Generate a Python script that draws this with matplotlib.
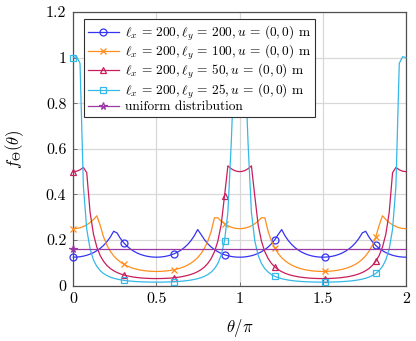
import numpy as np
import matplotlib
matplotlib.use("Agg")
import matplotlib.pyplot as plt

# ---- data (theta/pi sampled on [0, 2]; curves are even about theta/pi = 1) ----
n_samples = 100
blue_half = [0.1250, 0.1255, 0.1270, 0.1296, 0.1334, 0.1385, 0.1450, 0.1533, 0.1637, 0.1766,
             0.1928, 0.2130, 0.2386, 0.2316, 0.2075, 0.1884, 0.1731, 0.1609, 0.1511, 0.1432,
             0.1371, 0.1324, 0.1289, 0.1266, 0.1253, 0.1250, 0.1258, 0.1276, 0.1305, 0.1346,
             0.1400, 0.1469, 0.1557, 0.1667, 0.1803, 0.1974, 0.2189, 0.2461, 0.2251, 0.2023,
             0.1842, 0.1698, 0.1582, 0.1489, 0.1416, 0.1358, 0.1314, 0.1282, 0.1261, 0.1251]
orange_half = [0.2500, 0.2510, 0.2541, 0.2593, 0.2668, 0.2770, 0.2901, 0.3066, 0.2644, 0.2138,
               0.1778, 0.1513, 0.1312, 0.1158, 0.1038, 0.0942, 0.0866, 0.0804, 0.0755, 0.0716,
               0.0685, 0.0662, 0.0644, 0.0633, 0.0626, 0.0625, 0.0629, 0.0638, 0.0652, 0.0673,
               0.0700, 0.0735, 0.0779, 0.0833, 0.0902, 0.0987, 0.1094, 0.1230, 0.1406, 0.1636,
               0.1944, 0.2369, 0.2977, 0.2979, 0.2831, 0.2716, 0.2628, 0.2564, 0.2523, 0.2503]
red_half = [0.5000, 0.5020, 0.5081, 0.5186, 0.4954, 0.3210, 0.2262, 0.1692, 0.1322, 0.1069,
            0.0889, 0.0756, 0.0656, 0.0579, 0.0519, 0.0471, 0.0433, 0.0402, 0.0378, 0.0358,
            0.0343, 0.0331, 0.0322, 0.0316, 0.0313, 0.0313, 0.0314, 0.0319, 0.0326, 0.0336,
            0.0350, 0.0367, 0.0389, 0.0417, 0.0451, 0.0494, 0.0547, 0.0615, 0.0703, 0.0818,
            0.0972, 0.1184, 0.1488, 0.1944, 0.2671, 0.3937, 0.5255, 0.5128, 0.5046, 0.5005]
cyan_half = [1.0000, 1.0040, 0.9750, 0.4363, 0.2477, 0.1605, 0.1131, 0.0846, 0.0661, 0.0535,
             0.0444, 0.0378, 0.0328, 0.0290, 0.0259, 0.0235, 0.0216, 0.0201, 0.0189, 0.0179,
             0.0171, 0.0165, 0.0161, 0.0158, 0.0157, 0.0156, 0.0157, 0.0159, 0.0163, 0.0168,
             0.0175, 0.0184, 0.0195, 0.0208, 0.0225, 0.0247, 0.0274, 0.0308, 0.0351, 0.0409,
             0.0486, 0.0592, 0.0744, 0.0972, 0.1336, 0.1969, 0.3219, 0.6259, 1.0091, 1.0010]
uniform_x = [0.0, 2.0]
uniform_y = [0.1592, 0.1592]

labels = [r"$\ell_x\,=\,200, \ell_y\,=\,200, u\,=\,(0,0)$ m",
          r"$\ell_x\,=\,200, \ell_y\,=\,100, u\,=\,(0,0)$ m",
          r"$\ell_x\,=\,200, \ell_y\,=\,50, u\,=\,(0,0)$ m",
          r"$\ell_x\,=\,200, \ell_y\,=\,25, u\,=\,(0,0)$ m",
          "uniform distribution"]
xticks = [0, 0.5, 1, 1.5, 2]
xticklabels = ["0", "0.5", "1", "1.5", "2"]
yticks = [0, 0.2, 0.4, 0.6, 0.8, 1.0, 1.2]
yticklabels = ["0", "0.2", "0.4", "0.6", "0.8", "1", "1.2"]

# ---- style ----
plt.rcParams["font.family"] = "serif"
plt.rcParams["font.serif"] = ["cmr10"]
plt.rcParams["mathtext.fontset"] = "cm"
plt.rcParams["axes.formatter.use_mathtext"] = True

colors = ["#3434F2", "#FF8E1E", "#C81E5C", "#35B8E8", "#9A3AA2"]
markers = ["o", "x", "^", "s", "*"]

theta = np.linspace(0, 2, n_samples)
series = [blue_half, orange_half, red_half, cyan_half]

fig = plt.figure(figsize=(4.16, 3.41), dpi=100)
ax = fig.add_axes([73.3 / 416, 1 - 285.7 / 341, (406 - 73.3) / 416, (285.7 - 12) / 341])

for half, col, mk, lab in zip(series, colors[:4], markers[:4], labels[:4]):
    vals = np.concatenate([np.asarray(half), np.asarray(half)[::-1]])
    ax.plot(theta, vals, color=col, lw=0.9, marker=mk, markevery=15, ms=5.0,
            mfc="none", mec=col, mew=0.9, label=lab, clip_on=False, zorder=3)
ax.plot(uniform_x, uniform_y, color=colors[4], lw=0.9, marker="*", markevery=[0],
        ms=5.5, mfc="none", mec=colors[4], mew=0.9, label=labels[4], clip_on=False, zorder=3)

ax.set_xlim(0, 2)
ax.set_ylim(0, 1.2)
ax.set_xticks(xticks)
ax.set_xticklabels(xticklabels)
ax.set_yticks(yticks)
ax.set_yticklabels(yticklabels)
ax.tick_params(direction="in", length=3, width=0.6, color="#606060", labelsize=11.5, pad=5)
ax.grid(True, color="#d8d8d8", lw=0.9)
ax.set_axisbelow(True)
for s in ax.spines.values():
    s.set_color("#505050")
    s.set_linewidth(0.9)

ax.set_xlabel(r"$\theta/\pi$", fontsize=12, labelpad=8)
ax.set_ylabel(r"$f_\Theta(\theta)$", fontsize=12, labelpad=14)

leg = ax.legend(loc="upper left", bbox_to_anchor=(0.032, 0.973), borderaxespad=0,
                fontsize=9.6, numpoints=1, handlelength=2.3, handletextpad=0.5,
                labelspacing=0.02, borderpad=0.3, fancybox=False, framealpha=1,
                edgecolor="#303030")
leg.get_frame().set_linewidth(0.8)
leg.set_zorder(10)

fig.savefig("out.png", dpi=100)
